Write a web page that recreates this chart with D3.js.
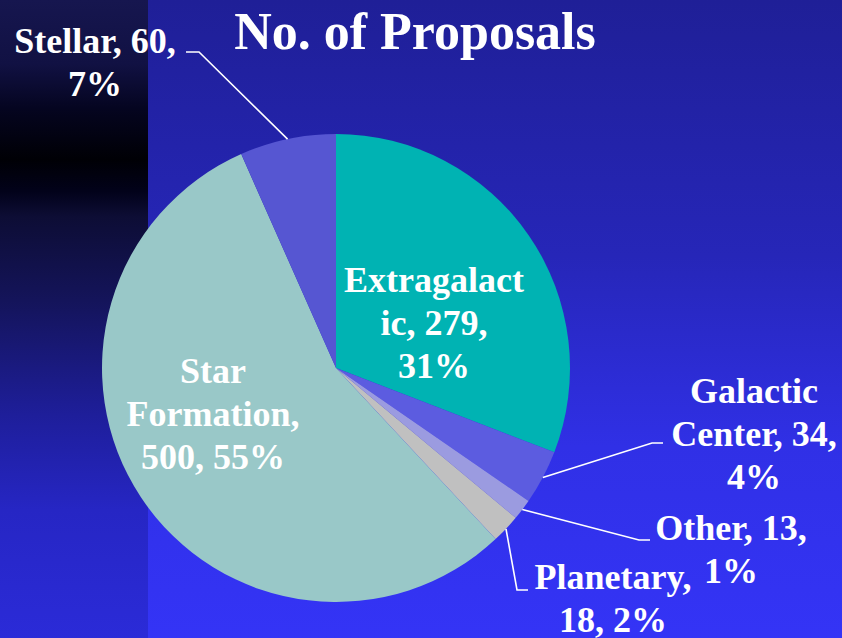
<!DOCTYPE html>
<html>
<head>
<meta charset="utf-8">
<script src="https://cdn.jsdelivr.net/npm/d3@7/dist/d3.min.js"></script>
<style>
  html, body { margin: 0; padding: 0; background: #22229f; }
  svg { display: block; }
  text { font-family: "Liberation Serif", Tinos, "Times New Roman", Times, "DejaVu Serif", serif; font-weight: bold; }
</style>
</head>
<body>
<svg id="chart" width="842" height="638"></svg>
<script>
// data, clockwise from 12 o'clock
var categories = ["Extragalactic", "Galactic Center", "Other", "Planetary", "Star Formation", "Stellar"];
var counts = [279, 34, 13, 18, 500, 60];
var percents = ["31%", "4%", "1%", "2%", "55%", "7%"];
var labelLines = [
    ["Extragalact", "ic, 279,", "31%"],
    ["Galactic", "Center, 34,", "4%"],
    ["Other, 13,", "1%"],
    ["Planetary,", "18, 2%"],
    ["Star", "Formation,", "500, 55%"],
    ["Stellar, 60,", "7%"]
];
var sliceColors = ["#00b3b3", "#5c5ce0", "#9b9be0", "#c0c0c0", "#99c8c8", "#5656d2"];

// label layout: centre x, first baseline y, leader elbow / end (null = label inside slice)
var labelLayout = [
    {x: 434, y: 292, leader: null},
    {x: 754, y: 403, leader: [[652, 443], [663, 443]]},
    {x: 731, y: 540, leader: [[639, 540], [650, 540]]},
    {x: 613, y: 589, leader: [[517, 590], [528, 590]]},
    {x: 213, y: 383, leader: null},
    {x: 95, y: 53, leader: [[199, 52], [186, 52]]}
];

var W = 842, H = 638;
var cx = 336, cy = 368, R = 234;

var svg = d3.select("#chart");
var defs = svg.append("defs");

var gRight = defs.append("linearGradient").attr("id", "bgRight")
    .attr("x1", 0).attr("y1", 0).attr("x2", 0).attr("y2", 1);
[[0, "#1f1f97"], [0.4, "#2626b8"], [0.7, "#3030e6"], [1, "#3434f6"]].forEach(function (s) {
    gRight.append("stop").attr("offset", s[0]).attr("stop-color", s[1]);
});

var gLeft = defs.append("linearGradient").attr("id", "bgLeft")
    .attr("x1", 0).attr("y1", 0).attr("x2", 0).attr("y2", 1);
[[0, "#16164f"], [0.1, "#111143"], [0.17, "#050520"], [0.25, "#000005"], [0.3, "#02021a"],
 [0.34, "#0d0d35"], [0.47, "#14145a"], [0.65, "#1e1e9a"], [0.8, "#2626c4"], [1, "#2b2bd8"]].forEach(function (s) {
    gLeft.append("stop").attr("offset", s[0]).attr("stop-color", s[1]);
});

svg.append("rect").attr("width", W).attr("height", H).attr("fill", "url(#bgRight)");
svg.append("rect").attr("width", 148).attr("height", H).attr("fill", "url(#bgLeft)");

var pie = d3.pie().sort(null).value(function (d) { return d; });
var arcs = pie(counts);
var arc = d3.arc().innerRadius(0).outerRadius(R);
var edge = d3.arc().innerRadius(R).outerRadius(R);

var g = svg.append("g").attr("transform", "translate(" + cx + "," + cy + ")");
g.selectAll("path.slice")
    .data(arcs)
    .enter()
    .append("path")
    .attr("class", "slice")
    .attr("d", arc)
    .attr("fill", function (d, i) { return sliceColors[i]; });

// leader lines
arcs.forEach(function (d, i) {
    var lay = labelLayout[i];
    if (!lay.leader) return;
    var p = edge.centroid(d);
    var pts = [[cx + p[0], cy + p[1]]].concat(lay.leader);
    svg.append("path")
        .attr("d", d3.line()(pts))
        .attr("fill", "none")
        .attr("stroke", "#ffffff")
        .attr("stroke-width", 1.6);
});

// labels
var labels = svg.selectAll("text.lbl")
    .data(labelLines)
    .enter()
    .append("text")
    .attr("class", "lbl")
    .attr("text-anchor", "middle")
    .style("font-size", "36px")
    .attr("fill", "#ffffff");
labels.each(function (lines, i) {
    var t = d3.select(this);
    var lay = labelLayout[i];
    lines.forEach(function (line, j) {
        t.append("tspan")
            .attr("x", lay.x)
            .attr("y", lay.y + j * 43)
            .text(line);
    });
});

svg.append("text")
    .attr("x", 415)
    .attr("y", 49)
    .attr("text-anchor", "middle")
    .style("font-size", "52px")
    .attr("fill", "#ffffff")
    .text("No. of Proposals");
</script>
</body>
</html>
